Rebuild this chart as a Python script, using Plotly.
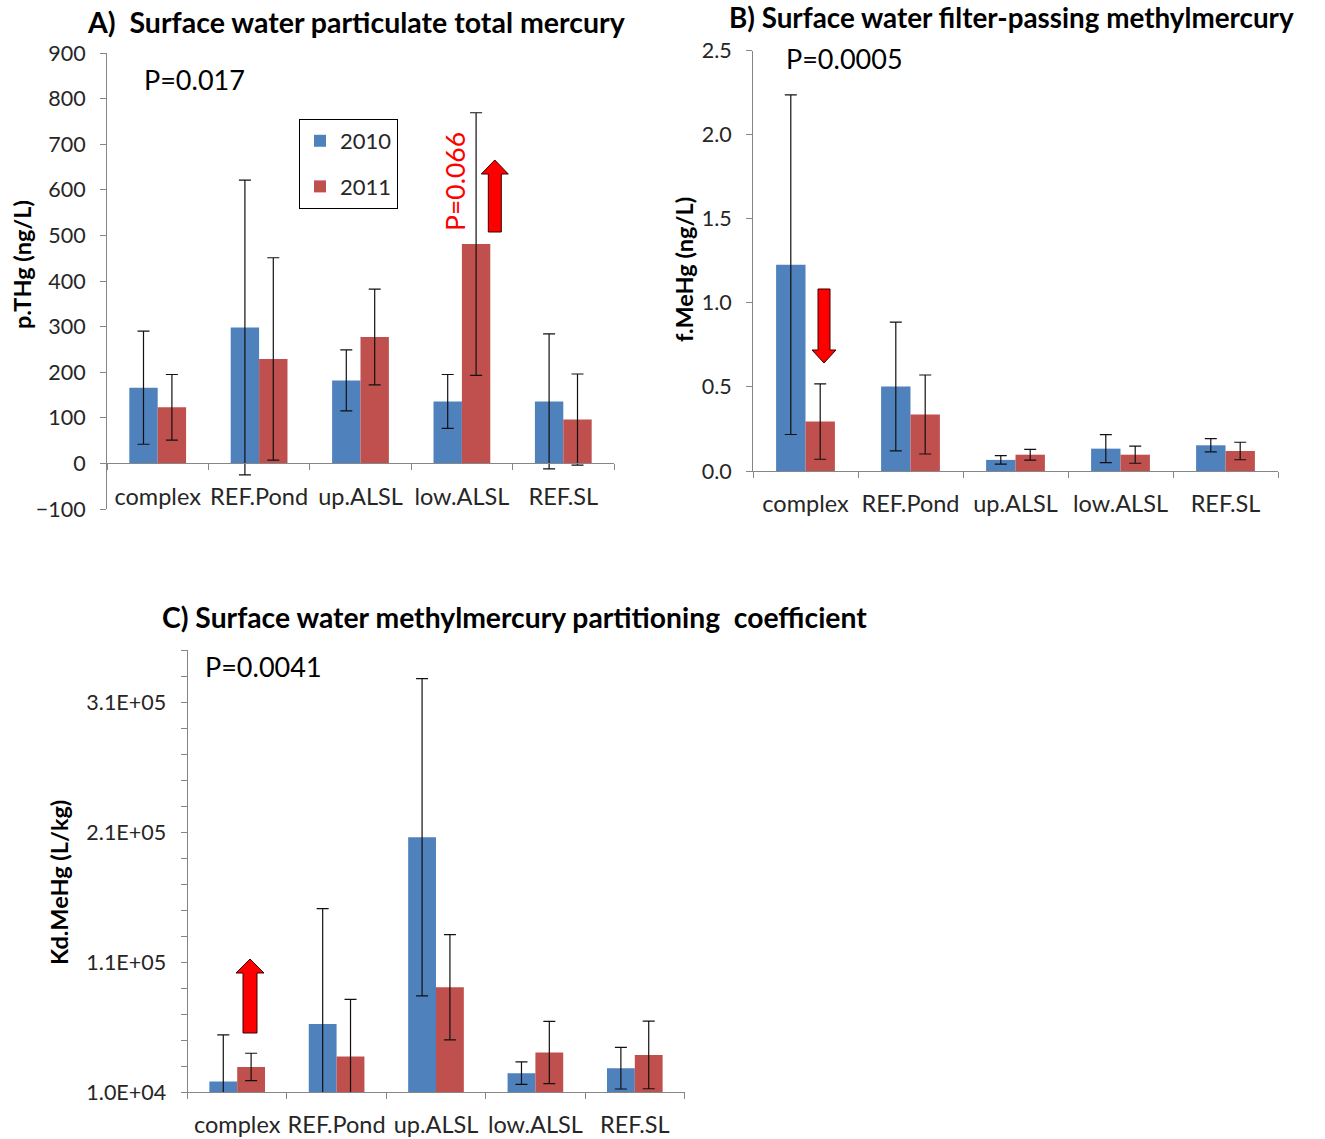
import plotly.graph_objects as go

W, H = 1325, 1139

categories = ["complex", "REF.Pond", "up.ALSL", "low.ALSL", "REF.SL"]
years = ["2010", "2011"]

# Panel A: particulate total mercury (ng/L)
pthg_2010 = [166, 298, 182, 136, 136]
pthg_2010_err = [124, 323, 67, 59, 148]
pthg_2011 = [123, 229, 277, 481, 96]
pthg_2011_err = [72, 222, 105, 288, 100]
pthg_ticks = [-100, 0, 100, 200, 300, 400, 500, 600, 700, 800, 900]

# Panel B: filter-passing methylmercury (ng/L)
fmehg_2010 = [1.227, 0.503, 0.066, 0.133, 0.153]
fmehg_2010_err = [1.01, 0.383, 0.025, 0.083, 0.039]
fmehg_2011 = [0.294, 0.336, 0.097, 0.097, 0.119]
fmehg_2011_err = [0.224, 0.235, 0.032, 0.051, 0.052]
fmehg_ticks = [0.0, 0.5, 1.0, 1.5, 2.0, 2.5]

# Panel C: methylmercury partitioning coefficient (L/kg)
kd_2010 = [18000, 62400, 206000, 24500, 28300]
kd_2010_err = [36000, 88600, 122000, 8600, 16000]
kd_2011 = [29300, 37400, 90600, 40400, 38500]
kd_2011_err = [10500, 43800, 40500, 24000, 26000]
kd_tickvals = [1e4, 1.1e5, 2.1e5, 3.1e5]
kd_ticktext = ["1.0E+04", "1.1E+05", "2.1E+05", "3.1E+05"]

BLUE = "#4F81BD"
RED = "#C0504D"
AXIS = "#868686"
TXT = "#262626"
FONT = "Lato"


def px(x, y):
    return x / W, 1 - y / H


def dom_x(a, b):
    return [a / W, b / W]


def dom_y(top, bottom):
    return [1 - bottom / H, 1 - top / H]


fig = go.Figure()

panels = [
    ("x", "y", pthg_2010, pthg_2010_err, pthg_2011, pthg_2011_err, True),
    ("x2", "y2", fmehg_2010, fmehg_2010_err, fmehg_2011, fmehg_2011_err, False),
    ("x3", "y3", kd_2010, kd_2010_err, kd_2011, kd_2011_err, False),
]
for xa, ya, v10, e10, v11, e11, show in panels:
    for yr, vals, errs, col in [("2010", v10, e10, BLUE), ("2011", v11, e11, RED)]:
        fig.add_trace(go.Bar(
            x=categories, y=vals, name=yr, marker=dict(color=col, line=dict(width=0)),
            error_y=dict(type="data", array=errs, color="#111111", thickness=1.2, width=6),
            xaxis=xa, yaxis=ya, showlegend=show, legendgroup=yr,
        ))

tickfont = dict(family=FONT, size=21.5, color=TXT)
catfont = dict(family=FONT, size=23.5, color=TXT)

common_x = dict(showline=True, linecolor=AXIS, linewidth=1, ticks="outside", tickson="boundaries",
                ticklen=6, tickcolor=AXIS, showgrid=False, zeroline=False, tickfont=catfont,
                tickangle=0, ticklabelstandoff=12, automargin=False, fixedrange=True)
common_y = dict(showline=True, linecolor=AXIS, linewidth=1, ticks="outside", ticklen=6,
                tickcolor=AXIS, showgrid=False, zeroline=False, tickfont=tickfont,
                ticklabelstandoff=10, automargin=False, fixedrange=True)

# Panel A axes
yA = dom_y(53, 509)
zero_pos = yA[0] + (yA[1] - yA[0]) * (0 - (-100)) / 1000
fig.update_layout(
    xaxis=dict(domain=dom_x(107, 614), anchor="free", position=zero_pos, **common_x),
    yaxis=dict(domain=yA, anchor="x", range=[-100, 900], tickvals=pthg_ticks, **common_y),
    xaxis2=dict(domain=dom_x(753, 1278), anchor="y2", **common_x),
    yaxis2=dict(domain=dom_y(50.7, 471), anchor="x2", range=[0, 2.5], tickvals=fmehg_ticks,
                tickformat=".1f", **common_y),
    xaxis3=dict(domain=dom_x(187.5, 684.5), anchor="y3", **common_x),
    yaxis3=dict(domain=dom_y(650, 1092), anchor="x3", range=[1e4, 3.5e5], tickmode="array",
                tickvals=kd_tickvals, ticktext=kd_ticktext,
                minor=dict(tickmode="linear", tick0=1e4, dtick=2e4, ticks="outside", ticklen=6,
                           tickcolor=AXIS, showgrid=False),
                **common_y),
)

ann = []


def text(x, y, s, size, bold=False, color="black", anchor="left", angle=0):
    ax, ay = px(x, y)
    ann.append(dict(x=ax, y=ay, xref="paper", yref="paper", text=(f"<b>{s}</b>" if bold else s),
                    showarrow=False, xanchor=anchor, yanchor="middle", textangle=angle,
                    font=dict(family=FONT, size=size, color=color)))


text(85, 22, "A)&nbsp;&nbsp;Surface water particulate total mercury", 28.5, bold=True)
text(727, 18, "B) Surface water filter-passing methylmercury", 27.8, bold=True)
text(160, 617, "C) Surface water methylmercury partitioning&nbsp;&nbsp;coefficient", 28.3, bold=True)
text(142, 80, "P=0.017", 27)
text(784, 58, "P=0.0005", 27)
text(203, 666, "P=0.0041", 27)
text(455, 182, "P=0.066", 26.5, color="#FF0000", anchor="center", angle=-90)
text(22, 265, "p.THg (ng/L)", 23.5, bold=True, anchor="center", angle=-90)
text(684, 270, "f.MeHg (ng/L)", 23.5, bold=True, anchor="center", angle=-90)
text(59, 883, "Kd.MeHg (L/kg)", 23.5, bold=True, anchor="center", angle=-90)

shapes = []


def arrow(cx, tip, base, tail, hhw, shw):
    pts = [(cx, tip), (cx + hhw, base), (cx + shw, base), (cx + shw, tail),
           (cx - shw, tail), (cx - shw, base), (cx - hhw, base)]
    path = "M " + " L ".join(f"{px(a, b)[0]:.5f},{px(a, b)[1]:.5f}" for a, b in pts) + " Z"
    shapes.append(dict(type="path", path=path, xref="paper", yref="paper",
                       fillcolor="#FF0000", line=dict(color="#3a0000", width=1)))


arrow(494.8, 160, 174, 232, 13.5, 6.5)
arrow(824, 363, 350, 289, 12, 6)
arrow(250, 959, 973, 1033, 14, 7)

fig.update_layout(
    width=W, height=H, margin=dict(l=0, r=0, t=0, b=0), template="none",
    plot_bgcolor="white", paper_bgcolor="white",
    barmode="group", bargap=0.44, bargroupgap=0,
    annotations=ann, shapes=shapes,
    legend=dict(x=299 / W, y=1 - 119 / H, xanchor="left", yanchor="top", bordercolor="black",
                borderwidth=1, bgcolor="white", font=dict(family=FONT, size=22, color=TXT),
                tracegroupgap=14, itemwidth=30),
    font=dict(family=FONT),
)

fig.write_html("out.html", config={"displayModeBar": False},
               post_script="document.body.style.margin='0';")
